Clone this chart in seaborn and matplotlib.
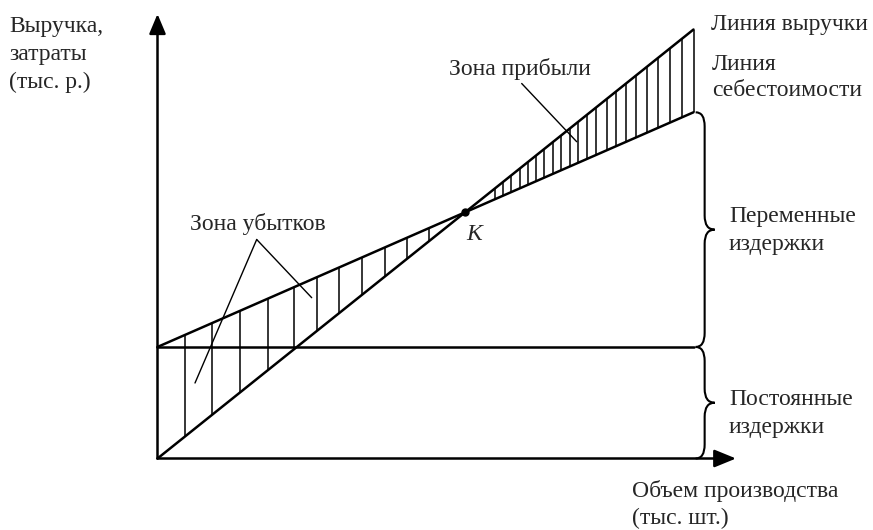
import numpy as np
import pandas as pd
import matplotlib
matplotlib.use("Agg")
import matplotlib.pyplot as plt
import seaborn as sns
from matplotlib.path import Path
from matplotlib.patches import PathPatch

# ---------------- data ----------------
volume = [0, 100]
revenue = [0, 100]
total_cost = [26, 80.7]
fixed_cost = [26, 26]
loss_hatch_volume = [5.2, 10.1, 15.3, 20.7, 25.4, 29.7, 33.8, 38.1, 42.4, 46.5, 50.6]
profit_hatch_volume = [62.9, 64.4, 66.0, 67.6, 69.1, 70.7, 72.2, 73.8, 75.3, 76.9,
                       78.5, 80.2, 81.9, 83.8, 85.6, 87.4, 89.3, 91.4, 93.4, 95.6,
                       97.9, 100.0]

y_axis_label = "Выручка,\nзатраты\n(тыс. р.)"
x_axis_label = "Объем производства\n(тыс. шт.)"
revenue_label = "Линия выручки"
cost_label = "Линия\nсебестоимости"
variable_label = "Переменные\nиздержки"
fixed_label = "Постоянные\nиздержки"
profit_label = "Зона прибыли"
loss_label = "Зона убытков"
point_label = "K"

# ---------------- style ----------------
sns.set_theme(style="white")
plt.rcParams["font.family"] = ["Liberation Serif", "DejaVu Serif"]

W, H = 873, 530
fig = plt.figure(figsize=(W / 100, H / 100), dpi=100)
ax = fig.add_axes([0, 0, 1, 1])
X0, Y0 = 157.5, 458.5   # origin position in pixels
SX, SY = 5.36, 4.29     # pixels per data unit
ax.set_xlim(-X0 / SX, (W - X0) / SX)
ax.set_ylim(-(H - Y0) / SY, Y0 / SY)
ax.axis("off")


def px(x, y):
    """pixel position -> data coordinates"""
    return (x - X0) / SX, (Y0 - y) / SY


# main lines
df = pd.DataFrame({
    "volume": volume * 3,
    "value": revenue + total_cost + fixed_cost,
    "line": ["revenue"] * 2 + ["cost"] * 2 + ["fixed"] * 2,
})
sns.lineplot(data=df, x="volume", y="value", hue="line",
             palette={"revenue": "black", "cost": "black", "fixed": "black"},
             linewidth=1.8, legend=False, ax=ax, estimator=None)

# hatching
for hv in (loss_hatch_volume, profit_hatch_volume):
    hv = np.asarray(hv)
    ax.vlines(hv, np.interp(hv, volume, total_cost), np.interp(hv, volume, revenue),
              color="black", linewidth=1.1)

# break-even point
rs = (revenue[1] - revenue[0]) / (volume[1] - volume[0])
cs = (total_cost[1] - total_cost[0]) / (volume[1] - volume[0])
vk = (total_cost[0] - revenue[0]) / (rs - cs)
yk = revenue[0] + rs * vk
ax.plot([vk], [yk], "o", color="black", markersize=5)

# axes arrows
xt = px(736, Y0)
yt = px(X0, 14)
ax.annotate("", xy=xt, xytext=(0, 0),
            arrowprops=dict(arrowstyle="-|>,head_length=1.1,head_width=0.45",
                            color="black", lw=1.8, shrinkA=0, shrinkB=0))
ax.annotate("", xy=yt, xytext=(0, 0),
            arrowprops=dict(arrowstyle="-|>,head_length=1.0,head_width=0.42",
                            color="black", lw=1.8, shrinkA=0, shrinkB=0))


# braces
def brace(v, ytop, ybot, w1=9, w2=19, r=14):
    x0 = v
    x1 = v + w1 / SX
    x2 = v + w2 / SX
    ry = r / SY
    ym = (ytop + ybot) / 2
    verts = [(x0, ytop), (x1, ytop), (x1, ytop - ry),
             (x1, ym + ry), (x1, ym), (x2, ym),
             (x1, ym), (x1, ym - ry),
             (x1, ybot + ry), (x1, ybot), (x0, ybot)]
    codes = [Path.MOVETO, Path.CURVE3, Path.CURVE3,
             Path.LINETO, Path.CURVE3, Path.CURVE3,
             Path.CURVE3, Path.CURVE3,
             Path.LINETO, Path.CURVE3, Path.CURVE3]
    ax.add_patch(PathPatch(Path(verts, codes), fill=False, lw=1.5, color="black"))


bx = volume[1] + 0.4
brace(bx, total_cost[1], fixed_cost[1])
brace(bx, fixed_cost[1], 0)

# leader lines
lw_lead = 1.0
apex = px(256.7, 239.5)
for end in (px(195, 383), px(311.7, 297.7)):
    ax.plot([apex[0], end[0]], [apex[1], end[1]], color="black", lw=lw_lead)
a, b = px(521.7, 83.5), px(576.7, 141.7)
ax.plot([a[0], b[0]], [a[1], b[1]], color="black", lw=lw_lead)

# texts
FS = 17


def ftext(x, y, s, **kw):
    fig.text(x / W, 1 - y / H, s, fontsize=FS, va="baseline", ha="left", **kw)


ftext(9, 32, y_axis_label.split("\n")[0])
ftext(9, 60, y_axis_label.split("\n")[1])
ftext(9, 88, y_axis_label.split("\n")[2])
ftext(711, 30, revenue_label)
ftext(712, 70, cost_label.split("\n")[0])
ftext(712, 96, cost_label.split("\n")[1])
ftext(729, 222, variable_label.split("\n")[0])
ftext(729, 250, variable_label.split("\n")[1])
ftext(729, 405, fixed_label.split("\n")[0])
ftext(729, 433, fixed_label.split("\n")[1])
ftext(632, 497, x_axis_label.split("\n")[0])
ftext(632, 524, x_axis_label.split("\n")[1])
ftext(449, 75, profit_label)
ftext(190, 230, loss_label)
ftext(466, 240, point_label, style="italic")

fig.savefig("out.png", dpi=100)
